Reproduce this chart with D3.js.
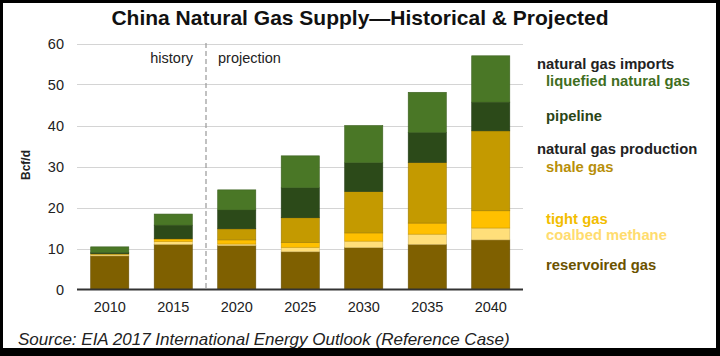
<!DOCTYPE html>
<html><head><meta charset="utf-8">
<script src="https://cdn.jsdelivr.net/npm/d3@7"></script>
<style>
html,body{margin:0;padding:0;background:#000;}
svg{display:block;}
text{font-family:"Liberation Sans",Arial,Helvetica,sans-serif;}
</style></head>
<body>
<svg id="chart" width="720" height="356"></svg>
<script>
const years = ["2010","2015","2020","2025","2030","2035","2040"];
const reservoired = [8.2, 11.0, 10.7, 9.2, 10.2, 11.0, 12.1];
const coalbed     = [0.4, 0.7, 0.4, 1.1, 1.6, 2.5, 2.9];
const tight       = [0.1, 0.6, 1.0, 1.2, 2.0, 2.7, 4.2];
const shale       = [0.0, 0.1, 2.7, 6.0, 10.1, 14.8, 19.5];
const pipeline    = [0.3, 3.3, 4.6, 7.3, 7.0, 7.3, 7.0];
const lng         = [1.4, 2.7, 4.9, 7.8, 9.1, 9.8, 11.3];
const yTicks = [0,10,20,30,40,50,60];

const seriesKeys = ["reservoired","coalbed","tight","shale","pipeline","lng"];
const seriesVals = {reservoired, coalbed, tight, shale, pipeline, lng};
const colors = {reservoired:"#7f6000", coalbed:"#ffdf7a", tight:"#ffc000", shale:"#c49a00", pipeline:"#2c4a19", lng:"#4a7726"};

const table = years.map((y,i)=>{const o={year:y}; seriesKeys.forEach(k=>o[k]=seriesVals[k][i]); return o;});
const stack = d3.stack().keys(seriesKeys)(table);

const svg = d3.select("#chart");
// border frame
svg.append("rect").attr("x",0).attr("y",0).attr("width",720).attr("height",356).attr("fill","#000");
svg.append("rect").attr("x",3).attr("y",3).attr("width",713).attr("height",345).attr("fill","#fff");

const x = d3.scaleBand().domain(years).range([78,522.5]).paddingInner(0.4).paddingOuter(0.2);
const y = d3.scaleLinear().domain([0,60]).range([289.5,43.5]);

// gridlines
svg.append("g").selectAll("line").data(yTicks.filter(t=>t>0)).join("line")
  .attr("x1",77).attr("x2",523).attr("y1",d=>Math.round(y(d))+0.5).attr("y2",d=>Math.round(y(d))+0.5)
  .attr("stroke","#d4d4d4").attr("stroke-width",1.2);

// y axis labels
const yAxis = d3.axisLeft(y).tickValues(yTicks).tickSize(0).tickPadding(0);
const ga = svg.append("g").attr("transform","translate(64,0)").call(yAxis);
ga.select(".domain").remove();
ga.selectAll("text").attr("font-size","14.5px").attr("fill","#222").attr("dy","0.35em")
  .style("font-family","'Liberation Sans',Arial,sans-serif");

// history/projection divider
const divX = x("2015") + x.bandwidth() + (x.step()-x.bandwidth())/2 + 1;
svg.append("line").attr("x1",divX).attr("x2",divX).attr("y1",43).attr("y2",289)
  .attr("stroke","#a0a0a0").attr("stroke-width",1.3).attr("stroke-dasharray","5,3");
svg.append("text").attr("x",divX-13).attr("y",63).attr("text-anchor","end")
  .attr("font-size","14.5px").attr("fill","#222").text("history");
svg.append("text").attr("x",divX+12).attr("y",63).attr("text-anchor","start")
  .attr("font-size","14.5px").attr("fill","#222").text("projection");

// bars
svg.append("g").selectAll("g").data(stack).join("g")
  .attr("fill",d=>colors[d.key])
  .selectAll("rect").data(d=>d.map(v=>({v,key:d.key}))).join("rect")
  .attr("x",d=>x(d.v.data.year))
  .attr("width",x.bandwidth())
  .attr("y",d=>y(d.v[1]))
  .attr("height",d=>Math.max(0,y(d.v[0])-y(d.v[1])))
  .attr("stroke",d=>d3.color(colors[d.key]).darker(0.6))
  .attr("stroke-width",d=>(d.v[1]-d.v[0])>0?0.6:0);

// x axis
const xAxis = d3.axisBottom(x).tickSize(0).tickPadding(12);
const gx = svg.append("g").attr("transform","translate(0,289.5)").call(xAxis);
gx.select(".domain").remove();
gx.selectAll("text").attr("font-size","14.5px").attr("fill","#222")
  .style("font-family","'Liberation Sans',Arial,sans-serif");
svg.append("line").attr("x1",77).attr("x2",523).attr("y1",289.5).attr("y2",289.5)
  .attr("stroke","#333").attr("stroke-width",2);

// y label
svg.append("text").attr("transform","translate(30,165) rotate(-90)").attr("text-anchor","middle")
  .attr("font-size","12px").attr("font-weight","bold").attr("fill","#222").text("Bcf/d");

// title
svg.append("text").attr("x",360).attr("y",25).attr("text-anchor","middle")
  .attr("font-size","21px").attr("font-weight","bold").attr("fill","#111")
  .text("China Natural Gas Supply\u2014Historical & Projected");

// legend labels
const legendItems = [
  {text:"natural gas imports", x:537, y:68.5, color:"#222"},
  {text:"liquefied natural gas", x:546, y:86, color:"#3f6e1e"},
  {text:"pipeline", x:546, y:121, color:"#2a4516"},
  {text:"natural gas production", x:537, y:153.5, color:"#222"},
  {text:"shale gas", x:546, y:172, color:"#b88f0a"},
  {text:"tight gas", x:546, y:223.5, color:"#f2bd00"},
  {text:"coalbed methane", x:546, y:240, color:"#ffdc6e"},
  {text:"reservoired gas", x:546, y:270, color:"#6b5200"}
];
svg.append("g").selectAll("text").data(legendItems).join("text")
  .attr("x",d=>d.x).attr("y",d=>d.y).attr("fill",d=>d.color)
  .attr("font-size","14.8px").attr("font-weight","bold").text(d=>d.text);

// source
svg.append("text").attr("x",18).attr("y",345).attr("font-size","17px").attr("font-style","italic")
  .attr("fill","#222").text("Source: EIA 2017 International Energy Outlook (Reference Case)");
</script>
</body></html>
